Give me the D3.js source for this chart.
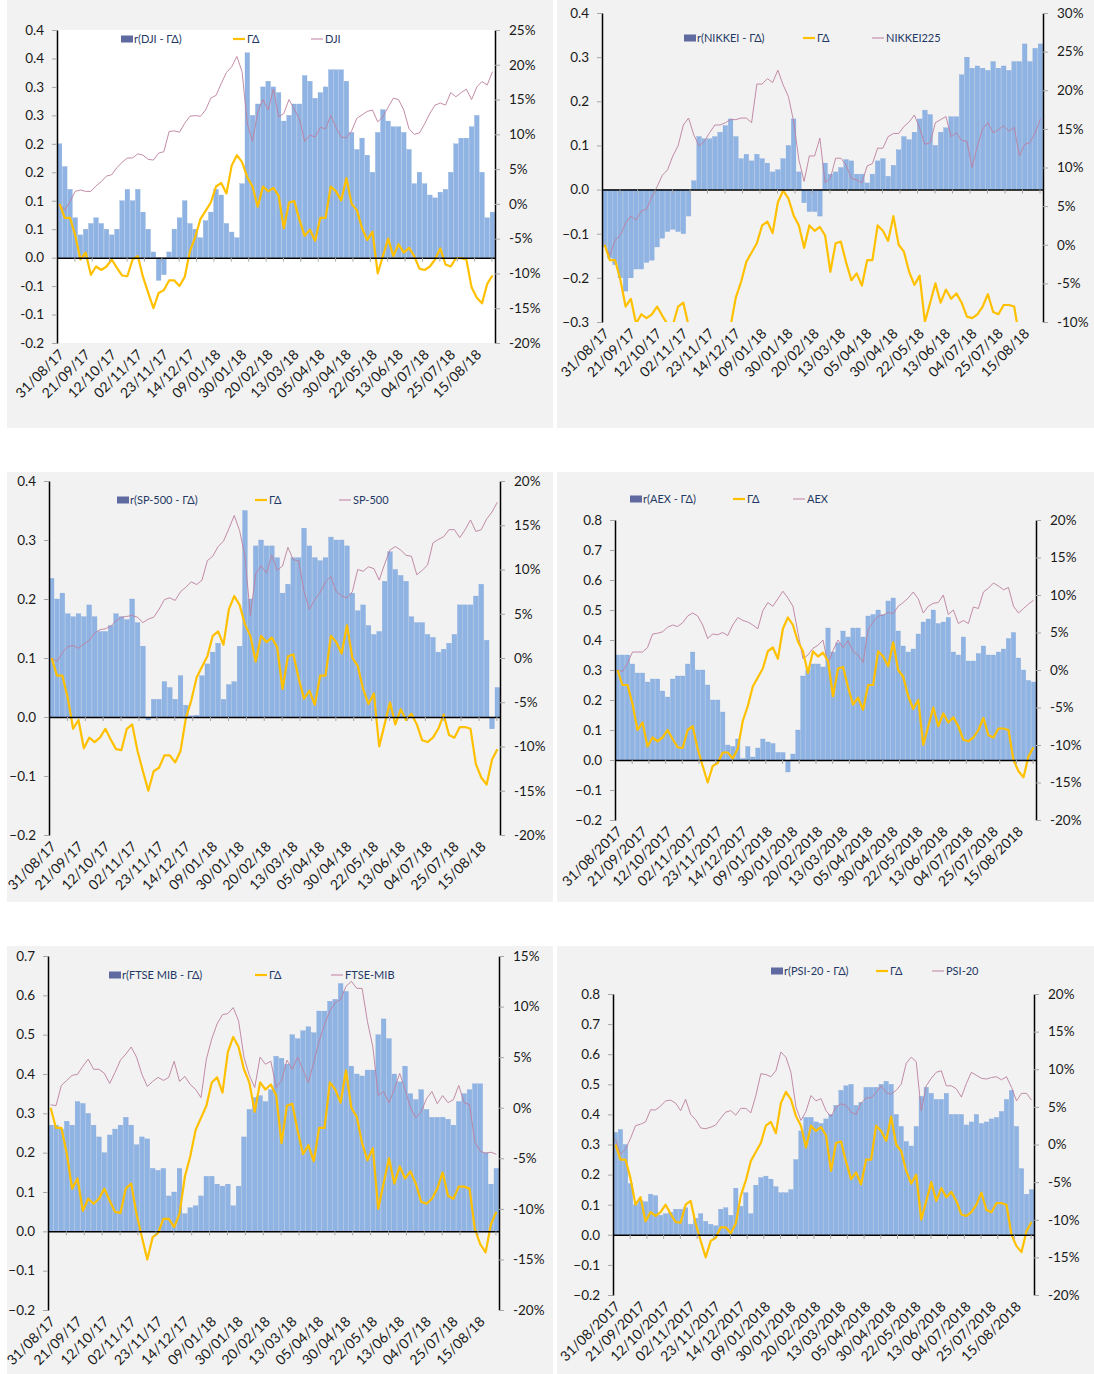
<!DOCTYPE html>
<html><head><meta charset="utf-8">
<script src="https://cdn.jsdelivr.net/npm/d3@7"></script>
<style>body{margin:0;background:#fff}svg{display:block}</style>
</head><body>
<svg id="c" width="1094" height="1374"></svg>
<script>
// ---------- DATA (one point every 3 trading days, 31/08/2017 .. end 08/2018) ----------
const gammaDelta = [0.0,-2.0,-2.0,-4.5,-8.0,-7.0,-10.2,-9.0,-9.5,-9.0,
 -8.0,-9.2,-10.3,-10.4,-8.0,-7.5,-10.5,-12.8,-15.0,-12.8,
 -12.4,-11.0,-11.0,-11.8,-10.5,-6.8,-4.8,-2.2,-1.0,0.2,
 2.5,3.0,1.5,5.5,7.0,6.0,3.8,2.5,-0.4,2.5,
 1.8,2.3,1.2,-3.5,0.2,0.4,-2.3,-4.6,-3.7,-5.3,
 -2.0,-2.0,2.5,1.8,0.5,3.7,0.0,-0.9,-3.5,-5.2,
 -4.0,-10.0,-7.5,-5.0,-7.5,-5.8,-7.0,-6.3,-7.5,-9.3,
 -9.5,-9.0,-8.0,-6.4,-8.7,-9.0,-7.8,-7.8,-8.0,-12.0,
 -13.5,-14.3,-11.5,-10.3];

const djiBars = [0.20,0.16,0.12,0.07,0.04,0.05,0.06,0.07,0.06,0.05,
 0.04,0.05,0.10,0.12,0.10,0.12,0.08,0.05,0.01,-0.04,
 -0.03,0.01,0.05,0.07,0.10,0.06,0.05,0.035,0.065,0.08,
 0.12,0.11,0.06,0.045,0.035,0.13,0.36,0.25,0.27,0.30,
 0.31,0.30,0.29,0.24,0.25,0.27,0.27,0.32,0.31,0.28,
 0.29,0.30,0.33,0.33,0.33,0.31,0.22,0.19,0.21,0.18,
 0.15,0.22,0.26,0.24,0.23,0.23,0.22,0.19,0.13,0.15,
 0.13,0.11,0.105,0.115,0.12,0.15,0.20,0.21,0.21,0.23,
 0.25,0.15,0.07,0.08];
const djiIndex = [0,-0.9,0.3,1.8,2.0,1.8,1.8,2.6,3.2,4.0,
 4.2,5.2,6.0,6.6,6.6,7.2,7.0,6.4,6.3,7.3,
 7.5,10.4,10.5,10.3,11.6,12.6,12.7,12.6,13.5,15.2,
 15.6,17.3,18.9,19.7,21.2,19.0,11.5,9.0,13.2,15.0,
 13.5,16.5,12.5,13.0,15.0,13.6,12.2,9.0,9.9,9.6,
 11.0,10.8,12.7,11.0,9.6,9.5,10.5,12.3,12.8,13.3,
 13.5,11.8,12.5,13.9,15.2,15.0,13.5,10.8,10.0,10.2,
 11.5,13.0,14.2,14.5,14.2,16.0,15.4,16.0,16.5,15.0,
 16.8,17.6,17.1,19.0];

const nikkeiBars = [-0.13,-0.155,-0.17,-0.20,-0.23,-0.20,-0.18,-0.18,-0.165,-0.16,
 -0.13,-0.11,-0.095,-0.09,-0.095,-0.10,-0.06,0.02,0.12,0.115,
 0.115,0.12,0.13,0.145,0.16,0.12,0.07,0.08,0.065,0.08,
 0.07,0.06,0.04,0.045,0.07,0.10,0.16,0.04,-0.03,-0.05,
 -0.05,-0.06,0.06,0.035,0.04,0.05,0.068,0.065,0.035,0.035,
 0.015,0.035,0.065,0.07,0.03,0.055,0.09,0.12,0.113,0.13,
 0.16,0.18,0.17,0.10,0.13,0.14,0.165,0.165,0.26,0.30,
 0.275,0.28,0.275,0.27,0.29,0.275,0.28,0.27,0.29,0.29,
 0.33,0.29,0.32,0.33];
const nikkeiIndex = [0,-1.4,0.6,1.2,2.8,3.7,3.2,4.4,4.6,6.2,
 7.5,9.0,9.7,11.5,12.8,15.5,16.4,14.2,12.8,13.4,
 14.5,15.5,15.5,15.8,16.2,16.2,16.4,16.4,15.8,20.8,
 20.8,21.5,21.0,22.6,20.7,19.2,16.0,11.0,8.2,11.5,
 11.5,13.8,8.0,8.6,11.2,11.2,10.3,8.6,8.4,8.0,
 10.2,10.5,12.5,12.5,14.0,14.4,14.4,15.3,15.9,16.8,
 15.1,13.0,13.2,15.8,16.2,16.6,14.0,14.5,13.5,13.4,
 10.0,12.8,15.0,15.8,14.5,14.9,15.4,14.7,15.2,11.5,
 13.0,13.2,14.5,16.3];

const spBars = [0.235,0.20,0.21,0.175,0.17,0.175,0.17,0.19,0.17,0.145,
 0.145,0.155,0.175,0.17,0.165,0.20,0.16,0.12,-0.005,0.03,
 0.03,0.06,0.05,0.03,0.07,0.02,0.002,0.003,0.07,0.09,
 0.11,0.125,0.03,0.055,0.06,0.12,0.35,0.20,0.29,0.30,
 0.29,0.29,0.27,0.21,0.225,0.27,0.27,0.32,0.29,0.27,
 0.265,0.27,0.305,0.30,0.30,0.29,0.21,0.18,0.19,0.155,
 0.14,0.145,0.23,0.28,0.25,0.24,0.23,0.17,0.16,0.16,
 0.14,0.135,0.11,0.115,0.125,0.14,0.19,0.19,0.19,0.205,
 0.225,0.13,-0.02,0.05];
const spIndex = [0,-0.4,0.6,1.3,1.4,1.1,1.6,2.0,2.8,3.2,
 3.3,3.6,4.2,4.6,4.7,4.8,4.6,4.0,4.4,4.6,
 5.5,6.6,6.8,6.5,7.5,8.0,8.6,8.3,8.8,11.0,
 11.5,12.6,13.2,14.6,16.1,14.4,11.5,4.8,9.5,10.4,
 9.6,11.6,9.9,10.4,12.5,11.1,11.0,7.5,5.5,6.6,
 7.4,8.6,9.2,7.5,7.0,6.8,7.5,10.0,9.8,10.3,
 10.1,8.8,10.6,12.2,12.6,12.2,11.6,11.5,9.4,9.9,
 10.5,13.0,13.4,13.7,14.5,14.5,13.6,14.5,15.6,14.3,
 14.5,15.7,16.5,17.6];

const aexBars = [0.35,0.35,0.35,0.32,0.29,0.29,0.26,0.27,0.27,0.23,
 0.21,0.27,0.28,0.28,0.32,0.36,0.30,0.30,0.25,0.20,
 0.20,0.16,0.05,0.045,0.07,0.005,0.045,0.01,0.04,0.07,
 0.06,0.055,0.025,0.025,-0.04,0.02,0.10,0.28,0.30,0.32,
 0.32,0.31,0.44,0.36,0.39,0.43,0.41,0.44,0.44,0.41,
 0.48,0.485,0.50,0.485,0.53,0.54,0.43,0.38,0.36,0.37,
 0.42,0.46,0.47,0.50,0.455,0.46,0.475,0.36,0.35,0.41,
 0.33,0.33,0.355,0.38,0.35,0.35,0.36,0.37,0.405,0.425,
 0.34,0.30,0.265,0.26];
const aexIndex = [0,-0.2,0.9,2.4,2.4,2.4,3.0,4.8,4.9,5.1,
 5.7,6.0,5.8,6.3,7.2,7.6,7.2,6.0,4.2,4.8,
 4.7,5.0,4.6,6.0,7.0,6.6,6.4,6.0,5.5,7.9,
 9.0,8.5,9.5,10.5,9.6,8.5,5.0,1.5,2.0,2.9,
 3.3,4.0,0.8,2.6,4.0,3.0,3.9,2.5,2.0,1.0,
 5.4,6.4,7.2,7.3,7.7,7.5,8.5,9.0,9.6,10.4,
 9.5,7.6,8.5,8.9,9.0,10.0,7.4,8.0,6.2,6.6,
 6.2,8.4,8.2,10.4,10.9,11.6,11.2,10.7,11.0,8.5,
 7.6,8.2,8.8,9.3];

const ftseBars = [0.27,0.27,0.26,0.28,0.27,0.33,0.325,0.30,0.27,0.24,
 0.20,0.245,0.26,0.27,0.29,0.27,0.22,0.24,0.235,0.16,
 0.155,0.16,0.09,0.10,0.16,0.045,0.06,0.065,0.09,0.14,
 0.14,0.12,0.115,0.12,0.065,0.115,0.24,0.31,0.34,0.345,
 0.33,0.36,0.445,0.44,0.425,0.50,0.49,0.51,0.52,0.505,
 0.56,0.56,0.585,0.59,0.63,0.61,0.42,0.40,0.395,0.41,
 0.41,0.50,0.54,0.49,0.40,0.38,0.42,0.35,0.335,0.36,
 0.31,0.29,0.29,0.29,0.285,0.27,0.33,0.35,0.36,0.375,
 0.375,0.20,0.12,0.16];
const ftseIndex = [0.3,0.2,2.2,2.7,3.2,3.3,4.1,4.8,3.8,3.8,
 3.4,2.4,3.5,4.7,5.3,6.0,5.0,3.3,2.1,2.6,
 3.0,2.7,3.0,4.6,2.6,3.1,2.3,1.8,1.0,4.8,
 6.8,8.3,9.2,9.3,9.9,8.6,5.0,3.2,2.0,5.0,
 4.3,4.6,2.0,2.7,4.7,3.8,5.0,3.7,2.5,4.5,
 6.6,8.2,9.6,10.4,10.7,12.0,12.5,11.8,11.8,8.5,
 6.0,1.2,1.6,0.5,1.8,3.4,1.8,0.0,-1.0,-0.4,
 0.9,1.6,0.4,1.2,0.5,0.8,2.2,0.5,0.3,-3.4,
 -4.3,-4.5,-4.4,-4.6];

const psiBars = [0.34,0.35,0.30,0.17,0.10,0.115,0.11,0.135,0.13,0.065,
 0.07,0.075,0.085,0.085,0.09,0.035,0.055,0.07,0.045,0.035,
 0.03,0.085,0.09,0.065,0.155,0.095,0.14,0.07,0.165,0.19,
 0.195,0.185,0.16,0.14,0.14,0.15,0.25,0.345,0.39,0.39,
 0.375,0.37,0.385,0.40,0.43,0.48,0.495,0.50,0.43,0.44,
 0.49,0.49,0.49,0.50,0.51,0.50,0.40,0.36,0.31,0.295,
 0.36,0.46,0.49,0.47,0.45,0.45,0.47,0.40,0.40,0.40,
 0.365,0.375,0.40,0.37,0.375,0.385,0.39,0.41,0.45,0.48,
 0.36,0.22,0.135,0.15];
const psiIndex = [0.7,-1.3,-0.6,0.8,2.5,2.7,3.0,4.6,4.6,5.1,
 5.8,5.9,5.5,4.5,6.0,4.0,3.3,2.2,2.1,2.3,
 2.6,3.5,4.3,4.5,3.9,4.8,4.8,4.2,6.5,9.4,
 9.3,9.0,9.8,12.3,11.6,9.6,5.0,3.2,4.4,6.5,
 5.8,6.1,4.5,3.7,5.0,5.4,5.2,4.3,4.0,5.5,
 6.2,6.2,6.9,7.8,6.9,6.7,7.2,8.0,10.8,11.6,
 11.0,4.5,7.8,8.8,9.6,9.8,7.8,7.8,7.4,6.3,
 8.1,9.6,9.2,8.8,8.7,8.9,9.0,8.6,9.0,7.6,
 5.8,6.8,6.8,5.9];

// category labels (one every 15 trading days = every 5 points)
const dateLabelsShort = ["31/08/17","21/09/17","12/10/17","02/11/17","23/11/17","14/12/17","09/01/18","30/01/18","20/02/18","13/03/18","05/04/18","30/04/18","22/05/18","13/06/18","04/07/18","25/07/18","15/08/18"];
const dateLabelsLong = ["31/08/2017","21/09/2017","12/10/2017","02/11/2017","23/11/2017","14/12/2017","09/01/2018","30/01/2018","20/02/2018","13/03/2018","05/04/2018","30/04/2018","22/05/2018","13/06/2018","04/07/2018","25/07/2018","15/08/2018"];

// tick values / labels
const leftTicksDJI = [0.4,0.35,0.3,0.25,0.2,0.15,0.1,0.05,0,-0.05,-0.1,-0.15];
const leftLabelsDJI = ["0.4","0.4","0.3","0.3","0.2","0.2","0.1","0.1","0.0","-0.1","-0.1","-0.2"];
const rightTicksDJI = [25,20,15,10,5,0,-5,-10,-15,-20];
const leftTicksNIK = [0.4,0.3,0.2,0.1,0,-0.1,-0.2,-0.3];
const rightTicksNIK = [30,25,20,15,10,5,0,-5,-10];
const leftTicksSP = [0.4,0.3,0.2,0.1,0,-0.1,-0.2];
const rightTicks20 = [20,15,10,5,0,-5,-10,-15,-20];
const leftTicks08 = [0.8,0.7,0.6,0.5,0.4,0.3,0.2,0.1,0,-0.1,-0.2];
const leftTicksFT = [0.7,0.6,0.5,0.4,0.3,0.2,0.1,0,-0.1,-0.2];
const rightTicksFT = [15,10,5,0,-5,-10,-15,-20];

const legendNames = [
  ["r(DJI - ΓΔ)","ΓΔ","DJI"],
  ["r(NIKKEI - ΓΔ)","ΓΔ","NIKKEI225"],
  ["r(SP-500 - ΓΔ)","ΓΔ","SP-500"],
  ["r(AEX - ΓΔ)","ΓΔ","AEX"],
  ["r(FTSE MIB - ΓΔ)","ΓΔ","FTSE-MIB"],
  ["r(PSI-20 - ΓΔ)","ΓΔ","PSI-20"]
];

// ---------- LAYOUT ----------
const panels = [
 {bg:[7,0,546,428], plotFill:"#ffffff", x0:57, x1:495, yT:30, yB:343,
  lD:[-0.15,0.4], rD:[-20,25], lT:leftTicksDJI, lL:leftLabelsDJI, rT:rightTicksDJI,
  bars:djiBars, idx:djiIndex, dates:dateLabelsShort, leg:[121,233,311], legY:39},
 {bg:[557,0,537,428], plotFill:null, x0:602, x1:1043, yT:13, yB:322,
  lD:[-0.3,0.4], rD:[-10,30], lT:leftTicksNIK, rT:rightTicksNIK,
  bars:nikkeiBars, idx:nikkeiIndex, dates:dateLabelsShort, leg:[684,803,872], legY:38},
 {bg:[7,472,546,430], plotFill:null, x0:49, x1:500, yT:481, yB:835,
  lD:[-0.2,0.4], rD:[-20,20], lT:leftTicksSP, rT:rightTicks20,
  bars:spBars, idx:spIndex, dates:dateLabelsShort, leg:[117,255,339], legY:500},
 {bg:[557,472,537,430], plotFill:null, x0:615, x1:1036, yT:520, yB:820,
  lD:[-0.2,0.8], rD:[-20,20], lT:leftTicks08, rT:rightTicks20,
  bars:aexBars, idx:aexIndex, dates:dateLabelsLong, leg:[630,733,793], legY:499},
 {bg:[7,946,546,428], plotFill:null, x0:48, x1:499, yT:956, yB:1310,
  lD:[-0.2,0.7], rD:[-20,15], lT:leftTicksFT, rT:rightTicksFT,
  bars:ftseBars, idx:ftseIndex, dates:dateLabelsShort, leg:[109,255,331], legY:975},
 {bg:[557,946,537,428], plotFill:null, x0:613, x1:1034, yT:994, yB:1295,
  lD:[-0.2,0.8], rD:[-20,20], lT:leftTicks08, rT:rightTicks20,
  bars:psiBars, idx:psiIndex, dates:dateLabelsLong, leg:[771,876,932], legY:971}
];

const FONT = "Lato, 'Liberation Sans', Arial, sans-serif";
const BAR = "#8fb3e2", YEL = "#ffc000", MAR = "#bd7f9f";
const svg = d3.select("#c");

panels.forEach((p, pi) => {
  const n = p.bars.length;
  const g = svg.append("g");
  g.append("rect").attr("x",p.bg[0]).attr("y",p.bg[1]).attr("width",p.bg[2]).attr("height",p.bg[3]).attr("fill","#f2f2f2");
  if (p.plotFill) g.append("rect").attr("x",p.x0).attr("y",p.yT).attr("width",p.x1-p.x0).attr("height",p.yB-p.yT).attr("fill",p.plotFill);

  const x = d3.scaleBand().domain(d3.range(n)).range([p.x0,p.x1]).paddingInner(0.12).paddingOuter(0.05);
  const bw = x.bandwidth();
  const cx = i => x(i) + bw/2;
  const yL = d3.scaleLinear().domain(p.lD).range([p.yB,p.yT]);
  const yR = d3.scaleLinear().domain(p.rD).range([p.yB,p.yT]);
  const days = d3.scaleLinear().domain([0,n*3]).range([p.x0,p.x1]);

  const cid = "clip"+pi;
  g.append("clipPath").attr("id",cid).append("rect")
    .attr("x",p.x0).attr("y",p.yT).attr("width",p.x1-p.x0).attr("height",p.yB-p.yT);
  const pg = g.append("g").attr("clip-path",`url(#${cid})`);

  pg.selectAll("rect.bar").data(p.bars).join("rect").attr("class","bar")
    .attr("x",(d,i)=>x(i)).attr("width",bw)
    .attr("y",d=>yL(Math.max(0,d))).attr("height",d=>Math.abs(yL(d)-yL(0)))
    .attr("fill",BAR).attr("stroke","#82a7da").attr("stroke-width",0.3);

  const line = d3.line().x((d,i)=>cx(i)).y(d=>yR(d));
  pg.append("path").datum(p.idx).attr("d",line).attr("fill","none")
    .attr("stroke",MAR).attr("stroke-width",1).attr("stroke-opacity",0.9);
  pg.append("path").datum(gammaDelta).attr("d",line).attr("fill","none")
    .attr("stroke",YEL).attr("stroke-width",2.2).attr("stroke-linejoin","round");

  // x axis at zero with ticks every 10 days
  const xa = g.append("g").attr("transform",`translate(0,${yL(0)})`)
    .call(d3.axisBottom(days).tickValues(d3.range(10,n*3,10)).tickFormat("").tickSize(4).tickSizeOuter(0));
  xa.select(".domain").attr("stroke","#000").attr("stroke-width",1.5);
  xa.selectAll(".tick line").attr("stroke","#a6a6a6");

  // left axis
  const la = g.append("g").attr("transform",`translate(${p.x0},0)`)
    .call(d3.axisLeft(yL).tickValues(p.lT)
      .tickFormat((d,i)=> p.lL ? p.lL[i] : d3.format(".1f")(d))
      .tickSize(5).tickSizeOuter(0).tickPadding(8));
  la.select(".domain").attr("stroke","#000").attr("stroke-width",1.5);
  la.selectAll(".tick line").attr("stroke","#a6a6a6");
  la.selectAll("text").attr("font-family",FONT).attr("font-size",13.5).attr("fill","#1a1a1a");

  // right axis
  const ra = g.append("g").attr("transform",`translate(${p.x1},0)`)
    .call(d3.axisRight(yR).tickValues(p.rT).tickFormat(d=>d+"%")
      .tickSize(5).tickSizeOuter(0).tickPadding(9));
  ra.select(".domain").attr("stroke","#000").attr("stroke-width",1.5);
  ra.selectAll(".tick line").attr("stroke","#a6a6a6");
  ra.selectAll("text").attr("font-family",FONT).attr("font-size",13.5).attr("fill","#1a1a1a");

  // date labels
  g.selectAll("text.dl").data(p.dates).join("text").attr("class","dl")
    .attr("transform",(d,k)=>`translate(${cx(k*5)+2},${p.yB+9}) rotate(-45)`)
    .attr("text-anchor","end").attr("dy","0.35em")
    .attr("font-family",FONT).attr("font-size",14).attr("fill","#1a1a1a").text(d=>d);

  // legend
  const names = legendNames[pi];
  const lg = g.append("g").attr("font-family",FONT).attr("font-size",11).attr("fill","#1f3864");
  lg.append("rect").attr("x",p.leg[0]).attr("y",p.legY-3.5).attr("width",12).attr("height",7).attr("fill","#5f6aa1");
  lg.append("text").attr("x",p.leg[0]+13).attr("y",p.legY).attr("dy","0.35em").text(names[0]);
  lg.append("line").attr("x1",p.leg[1]).attr("x2",p.leg[1]+12).attr("y1",p.legY).attr("y2",p.legY).attr("stroke",YEL).attr("stroke-width",2.2);
  lg.append("text").attr("x",p.leg[1]+14).attr("y",p.legY).attr("dy","0.35em").text(names[1]);
  lg.append("line").attr("x1",p.leg[2]).attr("x2",p.leg[2]+12).attr("y1",p.legY).attr("y2",p.legY).attr("stroke",MAR).attr("stroke-width",1);
  lg.append("text").attr("x",p.leg[2]+14).attr("y",p.legY).attr("dy","0.35em").text(names[2]);
});
</script>
</body></html>
